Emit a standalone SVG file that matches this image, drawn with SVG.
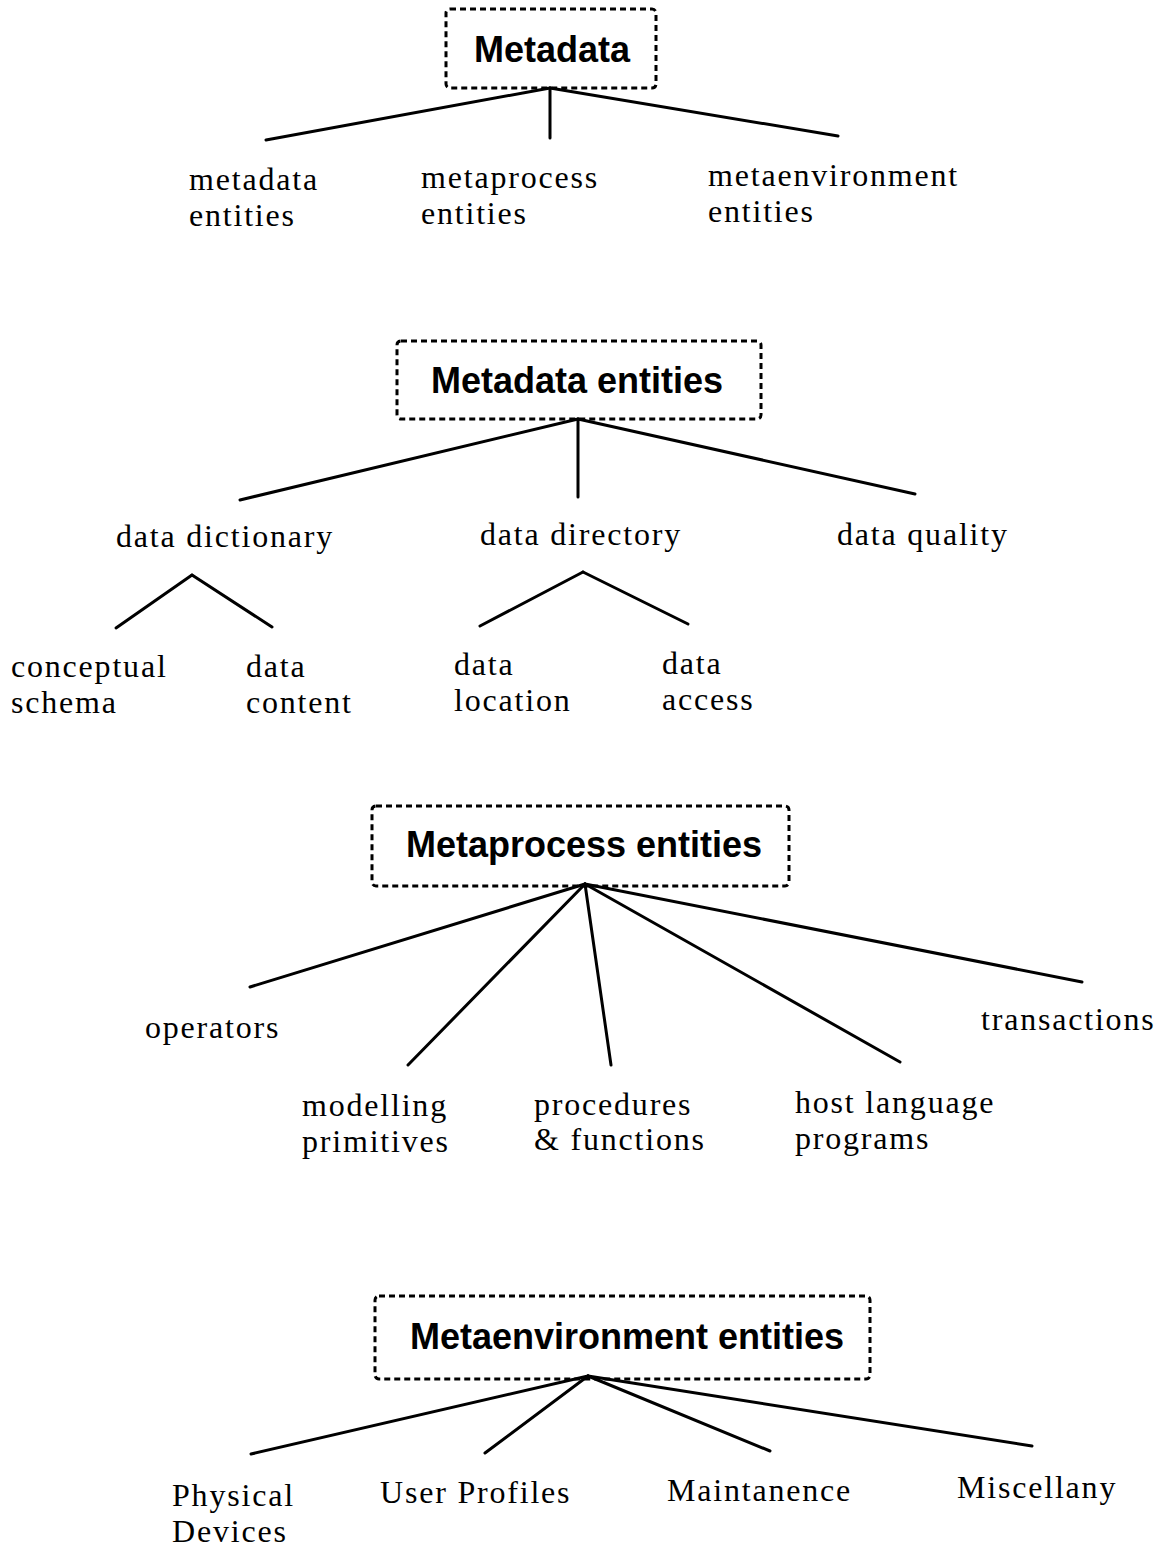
<svg xmlns="http://www.w3.org/2000/svg" width="1164" height="1548" viewBox="0 0 1164 1548">
<style>
.box{fill:none;stroke:#000;stroke-width:3;stroke-dasharray:6 4}
.t{font-family:"Liberation Sans",Arial,sans-serif;font-weight:bold;font-size:36px;fill:#000}
.l{font-family:"Liberation Serif","Times New Roman",serif;font-size:32px;letter-spacing:1.8px;fill:#000}
.c line{stroke:#000;stroke-width:3;stroke-linecap:round}
</style>
<rect width="1164" height="1548" fill="#fff"/>
<g class="c" id="connectors">
<line x1="550" y1="88" x2="266" y2="140"/>
<line x1="550" y1="88" x2="550" y2="138"/>
<line x1="550" y1="88" x2="838" y2="136"/>
<line x1="578" y1="419" x2="240" y2="500"/>
<line x1="578" y1="419" x2="578" y2="497"/>
<line x1="578" y1="419" x2="915" y2="494"/>
<line x1="192" y1="575" x2="116" y2="628"/>
<line x1="192" y1="575" x2="272" y2="627"/>
<line x1="583" y1="572" x2="480" y2="626"/>
<line x1="583" y1="572" x2="688" y2="624"/>
<line x1="585" y1="884" x2="250" y2="987"/>
<line x1="585" y1="884" x2="408" y2="1065"/>
<line x1="585" y1="884" x2="611" y2="1065"/>
<line x1="585" y1="884" x2="900" y2="1062"/>
<line x1="585" y1="884" x2="1082" y2="982"/>
<line x1="588" y1="1376" x2="251" y2="1454"/>
<line x1="588" y1="1376" x2="485" y2="1453"/>
<line x1="588" y1="1376" x2="770" y2="1451"/>
<line x1="588" y1="1376" x2="1032" y2="1446"/>
</g>
<g id="metadata"><rect class="box" x="446" y="9" width="210" height="79" rx="4"/><text class="t" x="474" y="62">Metadata</text></g>
<g id="metadata-entities-label"><text class="l" x="189" y="190">metadata</text><text class="l" x="189" y="226">entities</text></g>
<g id="metaprocess-entities-label"><text class="l" x="421" y="188">metaprocess</text><text class="l" x="421" y="224">entities</text></g>
<g id="metaenvironment-entities-label"><text class="l" x="708" y="186">metaenvironment</text><text class="l" x="708" y="222">entities</text></g>

<g id="metadata-entities"><rect class="box" x="397" y="341" width="364" height="78" rx="4"/><text class="t" x="431" y="393">Metadata entities</text></g>
<g id="data-dictionary"><text class="l" x="116" y="547">data dictionary</text></g>
<g id="data-directory"><text class="l" x="480" y="545">data directory</text></g>
<g id="data-quality"><text class="l" x="837" y="545">data quality</text></g>
<g id="conceptual-schema"><text class="l" x="11" y="677">conceptual</text><text class="l" x="11" y="713">schema</text></g>
<g id="data-content"><text class="l" x="246" y="677">data</text><text class="l" x="246" y="713">content</text></g>
<g id="data-location"><text class="l" x="454" y="675">data</text><text class="l" x="454" y="711">location</text></g>
<g id="data-access"><text class="l" x="662" y="674">data</text><text class="l" x="662" y="710">access</text></g>

<g id="metaprocess-entities"><rect class="box" x="372" y="806" width="417" height="80" rx="4"/><text class="t" x="406" y="857">Metaprocess entities</text></g>
<g id="operators"><text class="l" x="145" y="1038">operators</text></g>
<g id="transactions"><text class="l" x="981" y="1030">transactions</text></g>
<g id="modelling-primitives"><text class="l" x="302" y="1116">modelling</text><text class="l" x="302" y="1152">primitives</text></g>
<g id="procedures-functions"><text class="l" x="534" y="1115">procedures</text><text class="l" x="534" y="1150">&amp; functions</text></g>
<g id="host-language-programs"><text class="l" x="795" y="1113">host language</text><text class="l" x="795" y="1149">programs</text></g>

<g id="metaenvironment-entities"><rect class="box" x="375" y="1296" width="495" height="83" rx="4"/><text class="t" x="410" y="1349">Metaenvironment entities</text></g>
<g id="physical-devices"><text class="l" x="172" y="1506">Physical</text><text class="l" x="172" y="1542">Devices</text></g>
<g id="user-profiles"><text class="l" x="380" y="1503">User Profiles</text></g>
<g id="maintanence"><text class="l" x="667" y="1501">Maintanence</text></g>
<g id="miscellany"><text class="l" x="957" y="1498">Miscellany</text></g>
</svg>
